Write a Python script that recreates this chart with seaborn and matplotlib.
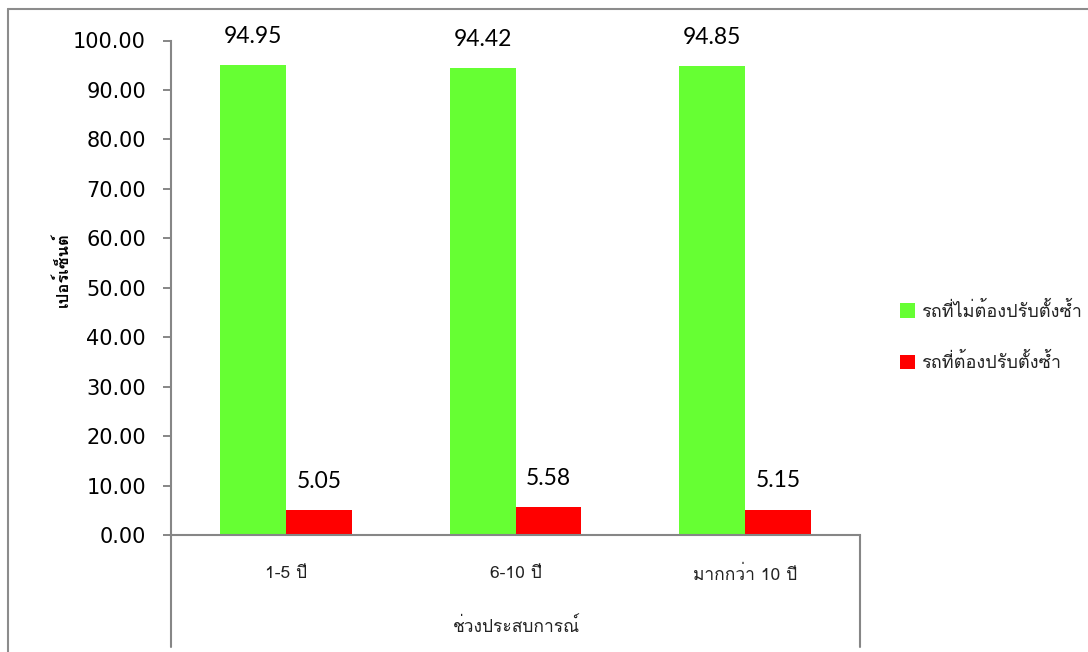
import matplotlib
matplotlib.use("Agg")
import matplotlib.pyplot as plt
from matplotlib import font_manager
from matplotlib.ft2font import FT2Font
from matplotlib.lines import Line2D
import seaborn as sns
import pandas as pd

# Data
categories = ["1-5 ปี", "6-10 ปี", "มากกว่า 10 ปี"]
series_names = ["รถที่ไม่ต้องปรับตั้งซ้ำ", "รถที่ต้องปรับตั้งซ้ำ"]
no_readjust = [94.95, 94.42, 94.85]
readjust = [5.05, 5.58, 5.15]
y_ticks = [0, 10, 20, 30, 40, 50, 60, 70, 80, 90, 100]
x_title = "ช่วงประสบการณ์"
y_title = "เปอร์เซ็นต์"

colors = ["#66FF33", "#FF0000"]
axis_gray = "#868686"


def find_thai_family(default="DejaVu Sans"):
    """Return the name of an installed font that has Thai glyphs."""
    seen = set()
    for f in font_manager.fontManager.ttflist:
        if f.fname in seen:
            continue
        seen.add(f.fname)
        try:
            cmap = FT2Font(f.fname).get_charmap()
        except Exception:
            continue
        if 0x0E01 in cmap and 0x0E35 in cmap and 0x0E48 in cmap:
            return f.name
    return default


sns.set_theme(style="white")
thai = find_thai_family()
plt.rcParams["font.family"] = [thai, "DejaVu Sans"]

df = pd.DataFrame({
    "category": categories * 2,
    "value": no_readjust + readjust,
    "series": [series_names[0]] * 3 + [series_names[1]] * 3,
})

W, H = 1088, 652
fig = plt.figure(figsize=(W / 100, H / 100), dpi=100)
fig.patch.set_facecolor("white")

# plot area in pixel coordinates
left_px, right_px, top_px, bottom_px = 171, 860, 40.5, 535
ax = fig.add_axes([left_px / W, 1 - bottom_px / H,
                   (right_px - left_px) / W, (bottom_px - top_px) / H])

sns.barplot(data=df, x="category", y="value", hue="series",
            order=categories, hue_order=series_names,
            palette=colors, saturation=1, width=0.574, gap=0,
            linewidth=0, ax=ax, legend=True)

ax.set_xlim(-0.5, 2.5)
ax.set_ylim(0, 100)
ax.set_yticks(y_ticks)
ax.set_yticklabels([f"{v:.2f}" for v in y_ticks], fontsize=15,
                   family="DejaVu Sans", color="black")
ax.tick_params(axis="y", length=6, width=1.4, color=axis_gray, pad=12, left=True)
ax.tick_params(axis="x", length=0, pad=22, labelsize=12.5, labelcolor="#222222")
ax.set_xlabel("")
ax.set_ylabel("")

for side in ["top", "right"]:
    ax.spines[side].set_visible(False)
for side in ["left", "bottom"]:
    ax.spines[side].set_color(axis_gray)
    ax.spines[side].set_linewidth(1.5)

# value labels above each bar
for container in ax.containers:
    ax.bar_label(container, fmt="{:.2f}", padding=13, fontsize=16.5,
                 family="Lato", color="black")

# category-axis box lines that extend below the plot area
ext = (bottom_px - 647) / (bottom_px - top_px)
ax.add_line(Line2D([0, 0], [0, ext], transform=ax.transAxes, clip_on=False,
                   color=axis_gray, lw=1.5))
ax.add_line(Line2D([1, 1], [0, ext], transform=ax.transAxes, clip_on=False,
                   color=axis_gray, lw=1.5))

# axis titles
fig.text(516 / W, 1 - 627 / H, x_title, ha="center", va="center",
         fontsize=12.5, color="#222222")
fig.text(62 / W, 1 - 270 / H, y_title, ha="center", va="center",
         rotation=90, fontsize=12, fontweight="bold", color="black")

# legend
handles, labels = ax.get_legend_handles_labels()
ax.legend(handles, labels, frameon=False, loc="center left",
          bbox_to_anchor=(900 / W, 1 - 337 / H), bbox_transform=fig.transFigure,
          fontsize=13, handlelength=0.85, handleheight=0.85, handletextpad=0.3,
          labelspacing=1.8, borderaxespad=0, borderpad=0,
          labelcolor="#222222")

# outer chart border
fig.add_artist(Line2D([8 / W, 1], [1 - 9 / H, 1 - 9 / H], color="#8c8c8c", lw=1.5))
fig.add_artist(Line2D([8 / W, 8 / W], [0, 1 - 9 / H], color="#8c8c8c", lw=1.5))

fig.savefig("out.png", dpi=100, facecolor="white")
